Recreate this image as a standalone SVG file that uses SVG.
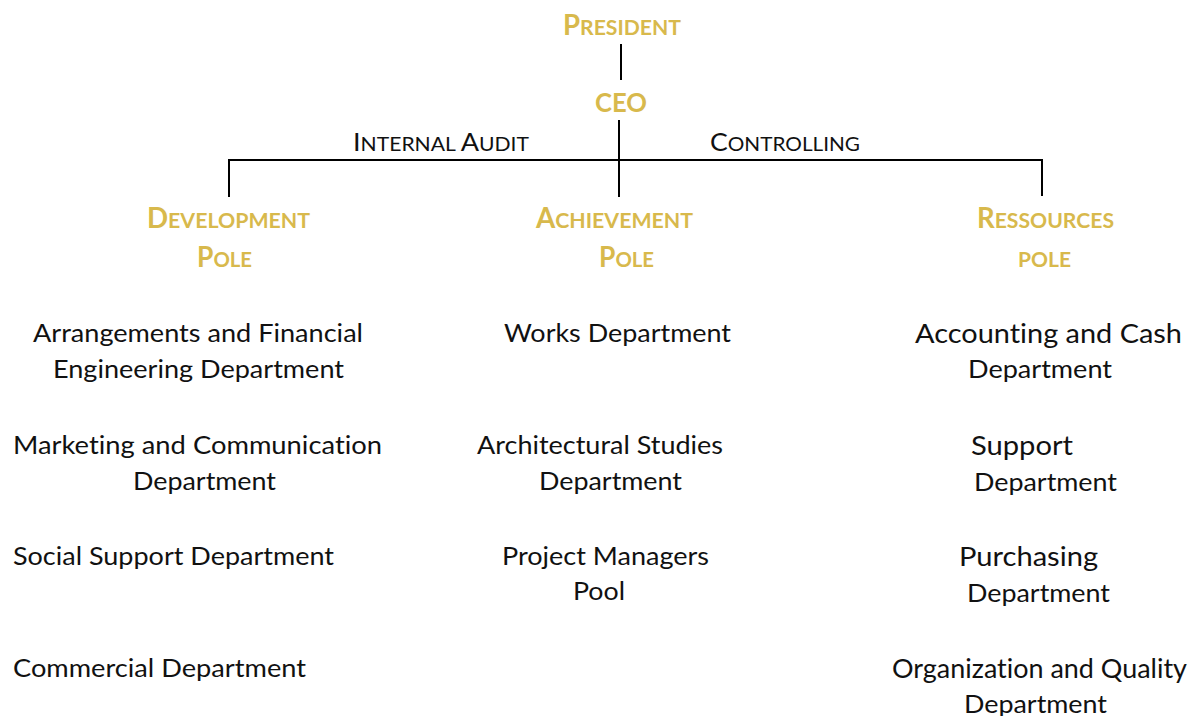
<svg xmlns="http://www.w3.org/2000/svg" width="1192" height="716" viewBox="0 0 1192 716">
  <style>
    text { font-variant-ligatures: none; font-feature-settings: "liga" 0, "clig" 0; }
    .head { font-family: Lato, "Open Sans", "Liberation Sans", sans-serif; font-weight: 700; fill: #D8B94C; }
    .cap { font-size: 28px; }
    .sc { font-size: 21.5px; }
    .side { font-family: Lato, "Open Sans", "Liberation Sans", sans-serif; fill: #111111; }
    .side .cap { font-size: 25px; }
    .side .sc { font-size: 19.5px; }
    .dept { font-family: Lato, "Open Sans", "Liberation Sans", sans-serif; font-size: 24.5px; fill: #111111; }
    .dept.big { font-size: 26.5px; }
    .dept.mid { font-size: 25.5px; }
    .link { stroke: #000000; stroke-width: 2; fill: none; }
  </style>
  <rect width="1192" height="716" fill="#ffffff"/>

  <!-- connectors -->
  <g id="connectors">
    <line class="link" x1="621" y1="44" x2="621" y2="80"/>
    <line class="link" x1="619" y1="120" x2="619" y2="197"/>
    <polyline class="link" points="229,197 229,160 1042,160 1042,196"/>
  </g>

  <!-- top of the chart -->
  <g id="president">
    <text class="head" x="563" y="35" textLength="118" lengthAdjust="spacingAndGlyphs"><tspan class="cap">P</tspan><tspan class="sc">RESIDENT</tspan></text>
  </g>
  <g id="ceo">
    <text class="head" x="595" y="112" font-size="26.5" textLength="52" lengthAdjust="spacingAndGlyphs">CEO</text>
  </g>

  <!-- staff functions attached to the CEO line -->
  <g id="internal-audit">
    <text class="side" x="353" y="151" textLength="176" lengthAdjust="spacingAndGlyphs"><tspan class="cap">I</tspan><tspan class="sc">NTERNAL </tspan><tspan class="cap">A</tspan><tspan class="sc">UDIT</tspan></text>
  </g>
  <g id="controlling">
    <text class="side" x="710" y="151" textLength="150" lengthAdjust="spacingAndGlyphs"><tspan class="cap">C</tspan><tspan class="sc">ONTROLLING</tspan></text>
  </g>

  <!-- poles -->
  <g id="development-pole">
    <text class="head" x="147" y="228" textLength="163" lengthAdjust="spacingAndGlyphs"><tspan class="cap">D</tspan><tspan class="sc">EVELOPMENT</tspan></text>
    <text class="head" x="197" y="267" textLength="55" lengthAdjust="spacingAndGlyphs"><tspan class="cap">P</tspan><tspan class="sc">OLE</tspan></text>
  </g>
  <g id="achievement-pole">
    <text class="head" x="536" y="228" textLength="157" lengthAdjust="spacingAndGlyphs"><tspan class="cap">A</tspan><tspan class="sc">CHIEVEMENT</tspan></text>
    <text class="head" x="599" y="267" textLength="55" lengthAdjust="spacingAndGlyphs"><tspan class="cap">P</tspan><tspan class="sc">OLE</tspan></text>
  </g>
  <g id="ressources-pole">
    <text class="head" x="977" y="228" textLength="137" lengthAdjust="spacingAndGlyphs"><tspan class="cap">R</tspan><tspan class="sc">ESSOURCES</tspan></text>
    <text class="head sc" x="1018" y="267" textLength="53" lengthAdjust="spacingAndGlyphs">POLE</text>
  </g>

  <!-- development departments -->
  <g id="dev-financial-engineering">
    <text class="dept" x="33" y="342" textLength="330" lengthAdjust="spacingAndGlyphs">Arrangements and Financial</text>
    <text class="dept" x="53" y="378" textLength="291" lengthAdjust="spacingAndGlyphs">Engineering Department</text>
  </g>
  <g id="dev-marketing">
    <text class="dept" x="13" y="454" textLength="369" lengthAdjust="spacingAndGlyphs">Marketing and Communication</text>
    <text class="dept" x="133" y="490" textLength="143" lengthAdjust="spacingAndGlyphs">Department</text>
  </g>
  <g id="dev-social-support">
    <text class="dept" x="13" y="565" textLength="321" lengthAdjust="spacingAndGlyphs">Social Support Department</text>
  </g>
  <g id="dev-commercial">
    <text class="dept" x="13" y="677" textLength="293" lengthAdjust="spacingAndGlyphs">Commercial Department</text>
  </g>

  <!-- achievement departments -->
  <g id="ach-works">
    <text class="dept" x="504" y="342" textLength="227" lengthAdjust="spacingAndGlyphs">Works Department</text>
  </g>
  <g id="ach-architectural">
    <text class="dept" x="477" y="454" textLength="246" lengthAdjust="spacingAndGlyphs">Architectural Studies</text>
    <text class="dept" x="539" y="490" textLength="143" lengthAdjust="spacingAndGlyphs">Department</text>
  </g>
  <g id="ach-project-managers">
    <text class="dept" x="502" y="565" textLength="207" lengthAdjust="spacingAndGlyphs">Project Managers</text>
    <text class="dept" x="573" y="600" textLength="52" lengthAdjust="spacingAndGlyphs">Pool</text>
  </g>

  <!-- resources departments -->
  <g id="res-accounting">
    <text class="dept big" x="915" y="343" textLength="267" lengthAdjust="spacingAndGlyphs">Accounting and Cash</text>
    <text class="dept mid" x="968" y="378" textLength="144" lengthAdjust="spacingAndGlyphs">Department</text>
  </g>
  <g id="res-support">
    <text class="dept big" x="971" y="455" textLength="102" lengthAdjust="spacingAndGlyphs">Support</text>
    <text class="dept mid" x="974" y="491" textLength="143" lengthAdjust="spacingAndGlyphs">Department</text>
  </g>
  <g id="res-purchasing">
    <text class="dept big" x="959" y="566" textLength="139" lengthAdjust="spacingAndGlyphs">Purchasing</text>
    <text class="dept mid" x="967" y="602" textLength="143" lengthAdjust="spacingAndGlyphs">Department</text>
  </g>
  <g id="res-organization">
    <text class="dept big" x="892" y="678" textLength="295" lengthAdjust="spacingAndGlyphs">Organization and Quality</text>
    <text class="dept mid" x="964" y="713" textLength="143" lengthAdjust="spacingAndGlyphs">Department</text>
  </g>
</svg>
